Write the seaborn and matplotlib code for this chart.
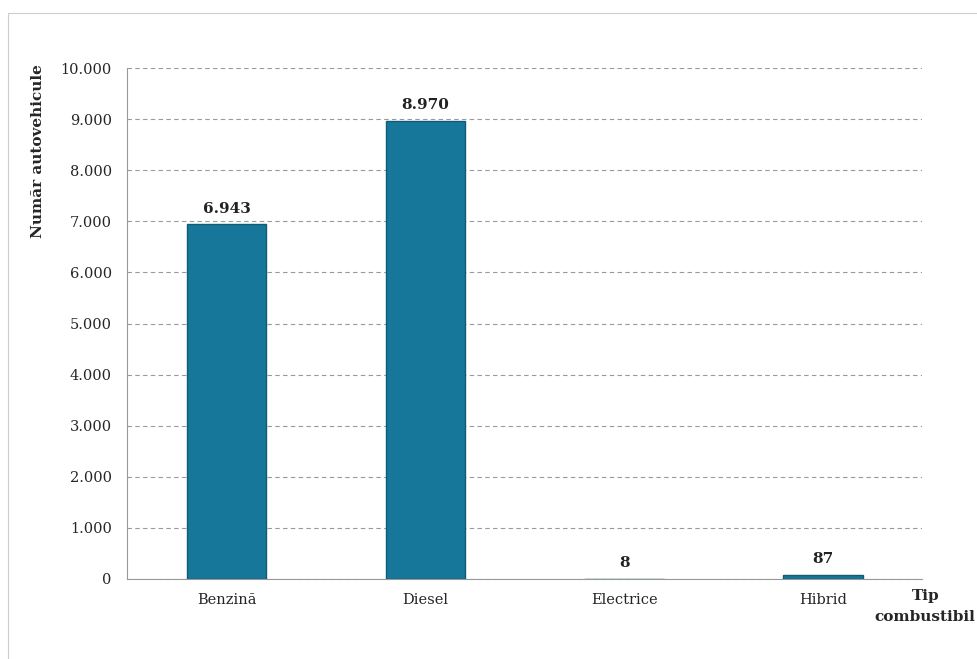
import pandas as pd
import seaborn as sns
import matplotlib.pyplot as plt
from matplotlib.patches import Rectangle
from matplotlib.ticker import FuncFormatter, FixedLocator

# date
tip = ['Benzină', 'Diesel', 'Electrice', 'Hibrid']
numar = [6943, 8970, 8, 87]

df = pd.DataFrame({'tip': tip, 'numar': numar})

sns.set_style('white')
plt.rcParams['font.family'] = ['DejaVu Serif']

fig = plt.figure(figsize=(9.78, 6.59), dpi=100)
ax = fig.add_axes([0.13, 0.1214, 0.813, 0.7754])

sns.barplot(data=df, x='tip', y='numar', color='#17779a', width=0.4,
            edgecolor='#0e5c75', linewidth=1, saturation=1, ax=ax, zorder=3)

# format 1.000 cu punct
fmt = lambda v: f'{int(v):,}'.replace(',', '.')
for c in ax.containers:
    ax.bar_label(c, labels=[fmt(v) for v in numar], padding=6,
                 fontsize=11, fontweight='semibold', color='#222222')

ax.set_ylim(0, 10000)
ax.set_xlim(-0.5, 3.5)
ax.set_yticks(range(0, 10001, 1000))
ax.yaxis.set_major_formatter(FuncFormatter(lambda v, p: fmt(v)))
ax.tick_params(axis='y', labelsize=10.5, length=5, color='#888888', pad=6)
ax.tick_params(axis='x', labelsize=10.5, length=0, pad=10)
ax.xaxis.set_minor_locator(FixedLocator([0.5, 1.5, 2.5, 3.5]))
ax.tick_params(axis='x', which='minor', length=4, color='#aaaaaa')
ax.yaxis.grid(True, linestyle=(0, (4, 3)), color='#999999', linewidth=0.8, zorder=0)
ax.set_axisbelow(True)

for s in ['top', 'right']:
    ax.spines[s].set_visible(False)
for s in ['left', 'bottom']:
    ax.spines[s].set_color('#999999')
    ax.spines[s].set_linewidth(0.8)

ax.set_xlabel('')
ax.set_ylabel('')
fig.text(0.039, 0.902, 'Număr autovehicule', rotation=90, ha='center', va='top',
         fontsize=11, fontweight='bold')
fig.text(0.946, 0.106, 'Tip\ncombustibil', ha='center', va='top',
         fontsize=11, fontweight='bold', linespacing=1.6)

# chenar exterior
fig.patches.append(Rectangle((0.008, -0.01), 1.0, 0.99, transform=fig.transFigure,
                             fill=False, edgecolor='#cccccc', linewidth=0.8))

fig.savefig('out.png', dpi=100)
